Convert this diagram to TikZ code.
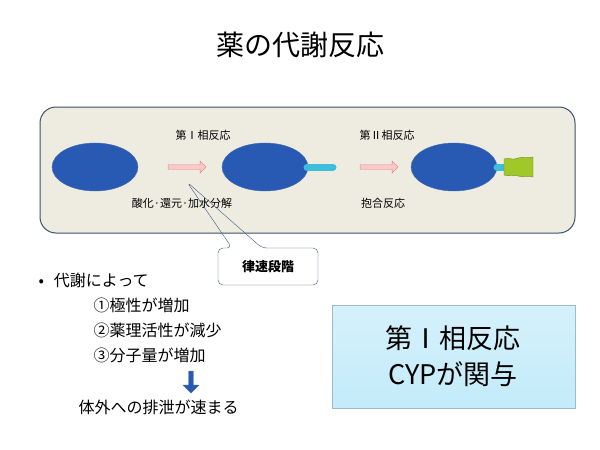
\documentclass[tikz,border=0pt]{standalone}
\usepackage{fontspec}
\setmainfont{Noto Sans CJK JP}
\usetikzlibrary{shapes.arrows,shapes.geometric}
\definecolor{panelbg}{RGB}{238,236,225}
\definecolor{panelbd}{RGB}{60,80,100}
\definecolor{ovfill}{RGB}{40,90,180}
\definecolor{ovbd}{RGB}{70,110,170}
\definecolor{pinkf}{RGB}{250,200,200}
\definecolor{pinkd}{RGB}{220,130,130}
\definecolor{stick}{RGB}{60,190,220}
\definecolor{greenf}{RGB}{160,200,40}
\definecolor{callbd}{RGB}{60,90,130}
\definecolor{cyanbox}{RGB}{195,235,250}
\tikzset{
  mol/.style={ellipse, fill=ovfill, draw=ovbd, minimum width=86pt, minimum height=48pt, inner sep=0},
  parrow/.style={single arrow, fill=pinkf, draw=pinkd, minimum width=12pt, single arrow head extend=2pt, minimum height=38pt, inner sep=1pt},
  lbl/.style={font=\fontsize{11}{12}\selectfont},
  btxt/.style={anchor=west, font=\fontsize{16}{18}\selectfont},
}
\begin{document}
\begin{tikzpicture}[x=1pt,y=-1pt]
\useasboundingbox (0,0) rectangle (600,450);
\node (title) at (300,45) {\fontsize{28}{32}\selectfont 薬の代謝反応};
\draw[panelbd, fill=panelbg, rounded corners=16pt, line width=1pt] (40,107) rectangle (575,233);
\node[mol] (m1) at (95,167) {};
\node[mol] (m2) at (265,167) {};
\node[mol] (m3) at (454,167) {};
\draw[stick, line width=7pt, line cap=round] (307,167) -- (333,167);
\draw[stick, line width=7pt, line cap=round] (497,167) -- (505,167);
\draw[greenf!70!black, fill=greenf] (504,159) .. controls (510,157) and (512,161) .. (518,158) .. controls (524,156) and (527,159) .. (533,157) -- (533,177) .. controls (527,175) and (524,178) .. (518,176) .. controls (512,174) and (510,177) .. (504,175) -- cycle;
\node[parrow] (a1) at (186,167) {};
\node[parrow] (a2) at (378,167) {};
\node[lbl] (p1) at (203,135) {第Ⅰ相反応};
\node[lbl] (p2) at (387,135) {第Ⅱ相反応};
\node[lbl] (r1) at (182,203) {酸化·還元·加水分解};
\node[lbl] (r2) at (383,203) {抱合反応};
\coordinate (tip) at (187,182);
\fill[white, rounded corners=5pt] (218,248) rectangle (318,285);
\draw[callbd, rounded corners=5pt] (218,248) -- (232,248) -- (tip) -- (262,248) -- (318,248) -- (318,285) -- (218,285) -- cycle;
\node[font=\fontsize{13}{15}\selectfont\bfseries] (ck) at (268,267) {律速段階};
\node[btxt] (b0) at (35,280) {•\hspace{10pt}代謝によって};
\node[btxt] (b1) at (90,305) {①極性が増加};
\node[btxt] (b2) at (90,330) {②薬理活性が減少};
\node[btxt] (b3) at (90,355) {③分子量が増加};
\node[single arrow, shape border rotate=270, fill=ovfill, draw=ovbd, minimum width=16pt, single arrow head extend=3pt, minimum height=22pt, inner sep=1pt] (da) at (191,381) {};
\node[btxt] (b4) at (75,407) {体外への排泄が速まる};
\shade[top color=cyanbox!70!white, bottom color=cyanbox] (332,305) rectangle (575,408);
\draw[cyanbox!80!black] (332,305) rectangle (575,408);
\node[align=center, font=\fontsize{27}{36}\selectfont] (big) at (453,356) {第Ⅰ相反応\\CYPが関与};
\end{tikzpicture}
\end{document}
